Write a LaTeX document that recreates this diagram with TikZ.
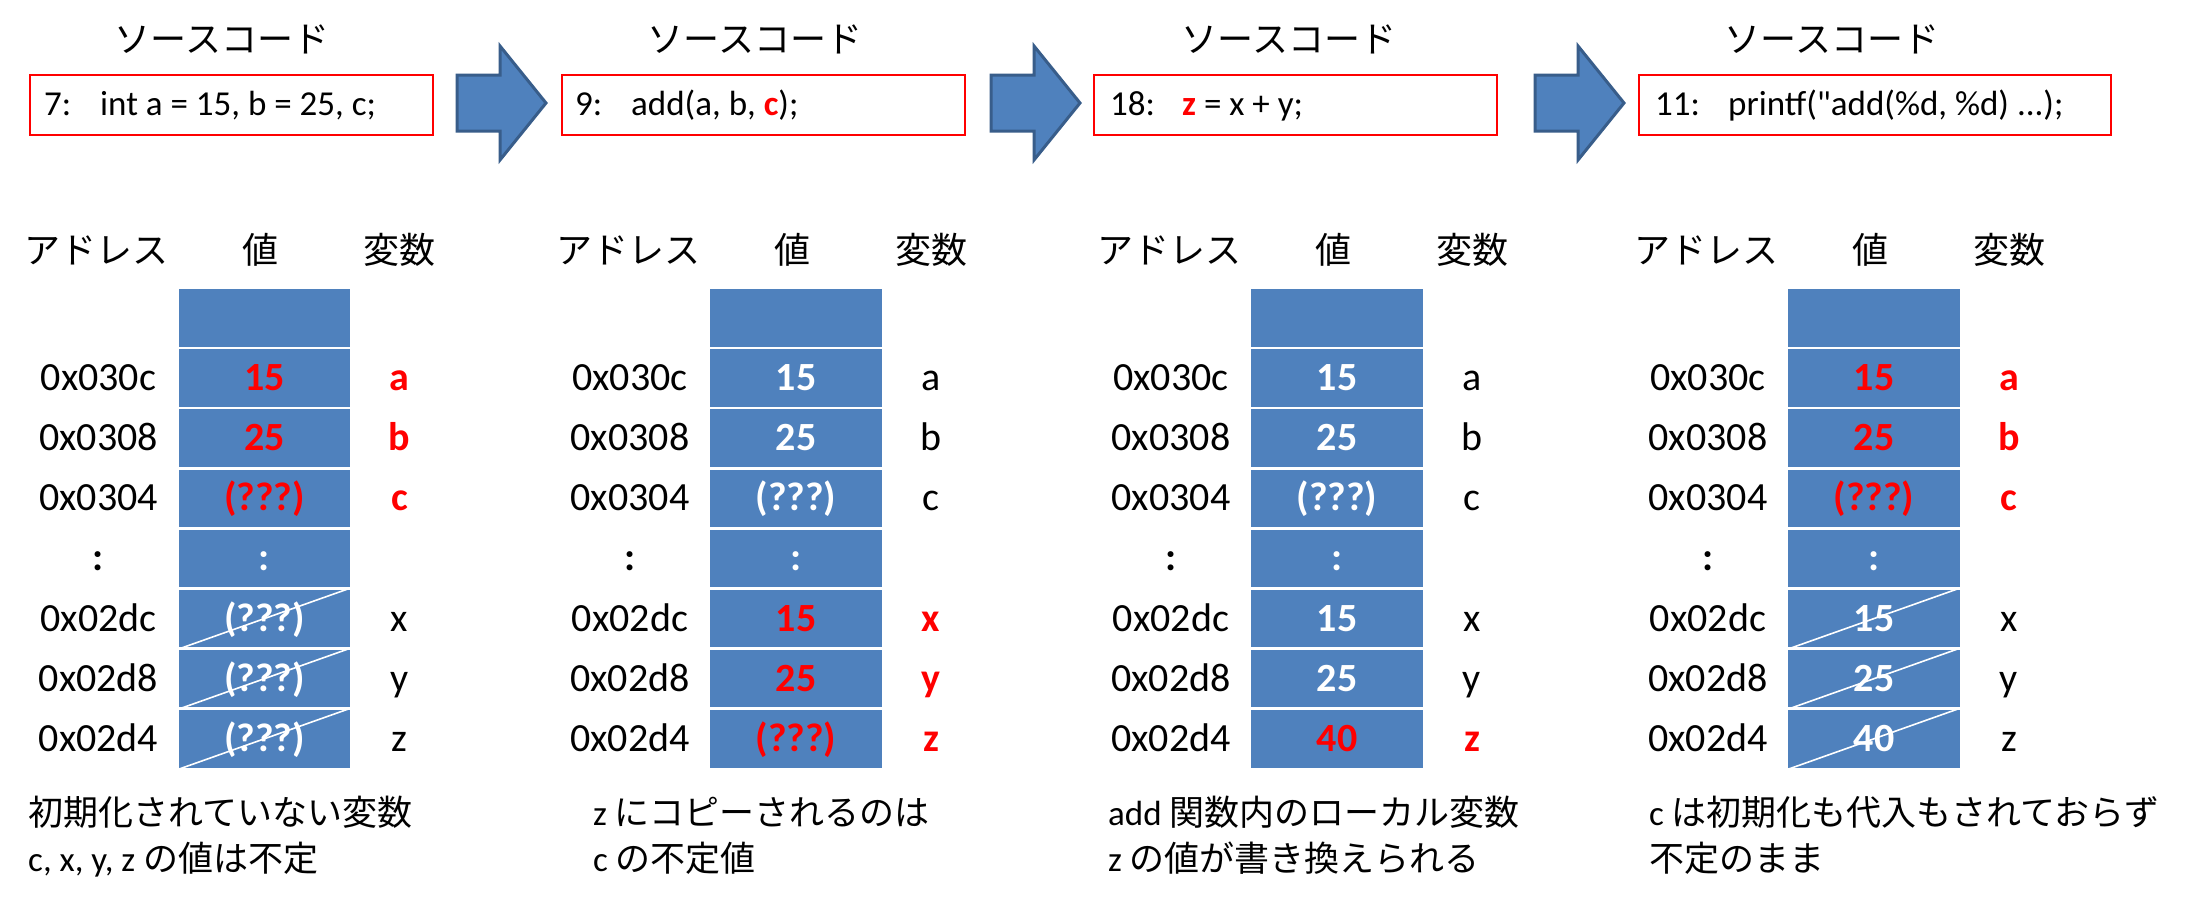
\documentclass[tikz,border=0pt]{standalone}
\usepackage{fontspec}
\setmainfont{Carlito}
\newfontfamily\codef{Carlito}[Ligatures=TeXOff]
\newfontfamily\jp{Noto Sans CJK JP}
\newcommand\jtxt[1]{{\jp #1}}
\usetikzlibrary{calc}
\definecolor{cellblue}{HTML}{4F81BD}
\definecolor{arrowedge}{HTML}{385D8A}
\definecolor{hl}{HTML}{FF0000}
\begin{document}
\begin{tikzpicture}[x=1pt,y=-1pt,
  cell/.style={fill=cellblue, draw=white, line width=2.5pt, minimum width=174pt, minimum height=60.1pt, inner sep=0pt},
  strike/.style={draw=white, line width=1.6pt},
  codebox/.style={draw=hl, line width=2pt, minimum width=403pt, minimum height=60pt, inner sep=0pt, anchor=north west},
  codetxt/.style={anchor=base west, inner sep=0pt, font=\codef\fontsize{35}{40}\selectfont},
  title/.style={inner sep=0pt, font=\jp\fontsize{36}{40}\selectfont},
  head/.style={inner sep=0pt, font=\jp\fontsize{36}{40}\selectfont},
  rowtxt/.style={inner sep=0pt, text height=25pt, text depth=0pt},
  addr/.style={rowtxt, font=\fontsize{40}{44}\selectfont},
  addrb/.style={rowtxt, font=\bfseries\fontsize{40}{44}\selectfont},
  valw/.style={rowtxt, font=\bfseries\fontsize{40}{44}\selectfont, text=white},
  valr/.style={rowtxt, font=\bfseries\fontsize{40}{44}\selectfont, text=hl},
  lblk/.style={rowtxt, font=\fontsize{40}{44}\selectfont},
  lred/.style={rowtxt, font=\bfseries\fontsize{40}{44}\selectfont, text=hl},
  note/.style={anchor=base west, inner sep=0pt, font=\fontsize{35}{40}\selectfont},
  blockarrow/.style={fill=cellblue, draw=arrowedge, line width=3pt, line join=miter}
]
\fill[white] (0,0) rectangle (2185,902);
\useasboundingbox (0,0) rectangle (2185,902);

% titles
\node[title] (t1) at (222,39) {ソースコード};
\node[title] (t2) at (755,39) {ソースコード};
\node[title] (t3) at (1289,39) {ソースコード};
\node[title] (t4) at (1832,39) {ソースコード};

% code boxes
\node[codebox] (b1) at (29,74) {};
\node[codebox] (b2) at (561,74) {};
\node[codebox] (b3) at (1093,74) {};
\node[codebox, minimum width=472pt] (b4) at (1638,74) {};

\node[codetxt] (k1a) at (44,115) {7:};
\node[codetxt] (k1b) at (100,115) {int a = 15, b = 25, c;};
\node[codetxt] (k2a) at (575,115) {9:};
\node[codetxt] (k2b) at (631,115) {add(a, b, {\color{hl}\bfseries c});};
\node[codetxt] (k3a) at (1110,115) {18:};
\node[codetxt] (k3b) at (1182,115) {{\color{hl}\bfseries z} = x + y;};
\node[codetxt] (k4a) at (1655,115) {11:};
\node[codetxt] (k4b) at (1728,115) {printf("add(\%d, \%d) ...);};

% block arrows
\foreach \ax in {0,534,1078}{
  \draw[blockarrow] (457+\ax,75) -- (500+\ax,75) -- (500+\ax,46) -- (546+\ax,103)
    -- (500+\ax,160) -- (500+\ax,131) -- (457+\ax,131) -- cycle;
}

% memory panels
\foreach \p/\cx in {1/177.5,2/709,3/1250,4/1787}{
  \node[head] (ha\p) at (\cx-81,250) {アドレス};
  \node[head] (hv\p) at (\cx+83,250) {値};
  \node[head] (hn\p) at (\cx+222,250) {変数};
  \foreach \i in {0,...,7}{
    \node[cell] (c\p-\i) at (\cx+87,318.05+60.1*\i) {};
  }
  \foreach \i/\ad in {1/0x030c,2/0x0308,3/0x0304,5/0x02dc,6/0x02d8,7/0x02d4}{
    \node[addr] (a\p-\i) at (\cx-79,318.05+60.1*\i) {\ad};
  }
  \node[addrb] (a\p-4) at (\cx-79,318.05+60.1*4) {:};
  \node[valw] (v\p-4) at (c\p-4) {:};
}

% values
\foreach \p/\i/\t/\s in {
  1/1/15/valr, 1/2/25/valr, 1/3/{(???)}/valr, 1/5/{(???)}/valw, 1/6/{(???)}/valw, 1/7/{(???)}/valw,
  2/1/15/valw, 2/2/25/valw, 2/3/{(???)}/valw, 2/5/15/valr, 2/6/25/valr, 2/7/{(???)}/valr,
  3/1/15/valw, 3/2/25/valw, 3/3/{(???)}/valw, 3/5/15/valw, 3/6/25/valw, 3/7/40/valr,
  4/1/15/valr, 4/2/25/valr, 4/3/{(???)}/valr, 4/5/15/valw, 4/6/25/valw, 4/7/40/valw}{
  \node[\s] (v\p-\i) at (c\p-\i) {\t};
}

% variable names
\foreach \p/\i/\t/\s in {
  1/1/a/lred, 1/2/b/lred, 1/3/c/lred, 1/5/x/lblk, 1/6/y/lblk, 1/7/z/lblk,
  2/1/a/lblk, 2/2/b/lblk, 2/3/c/lblk, 2/5/x/lred, 2/6/y/lred, 2/7/z/lred,
  3/1/a/lblk, 3/2/b/lblk, 3/3/c/lblk, 3/5/x/lblk, 3/6/y/lblk, 3/7/z/lred,
  4/1/a/lred, 4/2/b/lred, 4/3/c/lred, 4/5/x/lblk, 4/6/y/lblk, 4/7/z/lblk}{
  \node[\s] (n\p-\i) at ($(c\p-\i.center)+(135,0)$) {\t};
}

% strike-through lines
\foreach \p/\i in {1/5,1/6,1/7,4/5,4/6,4/7}{
  \draw[strike] (c\p-\i.south west) -- (c\p-\i.north east);
}

% notes
\node[note] (m1a) at (28,825) {\jtxt{初期化されていない変数}};
\node[note] (m1b) at (28,871) {c, x, y, z \jtxt{の値は不定}};
\node[note] (m2a) at (593,825) {z \jtxt{にコピーされるのは}};
\node[note] (m2b) at (593,871) {c \jtxt{の不定値}};
\node[note] (m3a) at (1108,825) {add \jtxt{関数内のローカル変数}};
\node[note] (m3b) at (1108,871) {z \jtxt{の値が書き換えられる}};
\node[note] (m4a) at (1649,825) {c \jtxt{は初期化も代入もされておらず}};
\node[note] (m4b) at (1649,871) {\jtxt{不定のまま}};
\end{tikzpicture}
\end{document}
